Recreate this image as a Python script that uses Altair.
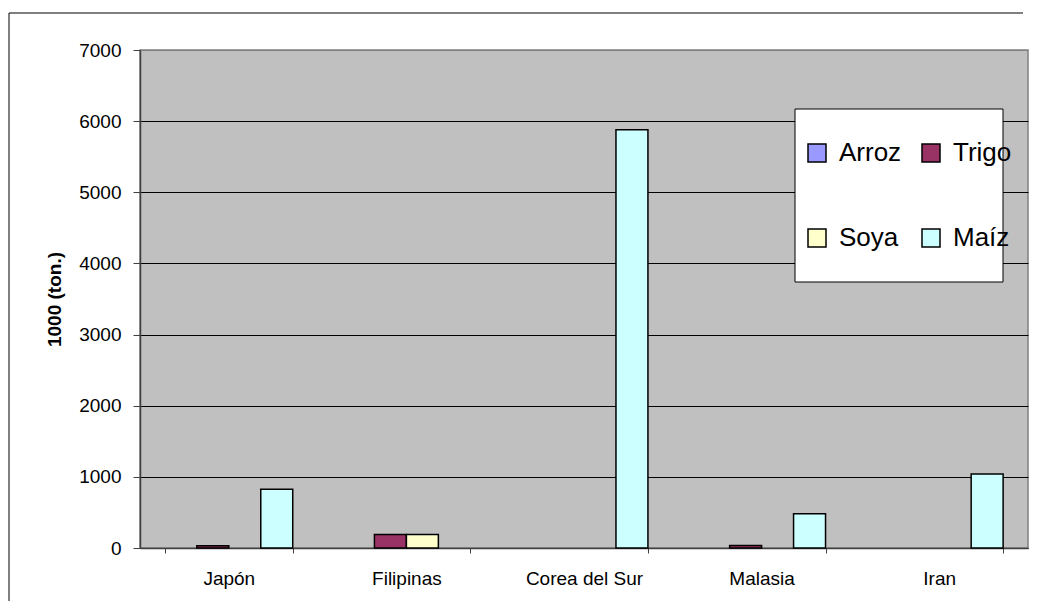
import altair as alt
import pandas as pd

countries = ["Japón", "Filipinas", "Corea del Sur", "Malasia", "Iran"]
crops = ["Arroz", "Trigo", "Soya", "Maíz"]
arroz = [0, 0, 0, 0, 0]
trigo = [30, 190, 0, 35, 0]
soya = [0, 190, 0, 0, 0]
maiz = [825, 0, 5880, 480, 1040]
colors = ["#9999FF", "#993366", "#FFFFCC", "#CCFFFF"]
y_ticks = [0, 1000, 2000, 3000, 4000, 5000, 6000, 7000]

rows = []
for ci, c in enumerate(countries):
    for crop, vals in zip(crops, [arroz, trigo, soya, maiz]):
        rows.append({"country": c, "crop": crop, "value": vals[ci]})
df = pd.DataFrame(rows)

W, H = 888, 498
PAD_R, PAD_B = 5, 53
FONT = "Liberation Sans"

bars = alt.Chart(df).transform_filter("datum.value > 0").mark_bar(
    stroke="black", strokeWidth=1.5
).encode(
    x=alt.X(
        "country:N",
        sort=countries,
        scale=alt.Scale(domain=countries, paddingInner=0.28, paddingOuter=0.14),
        axis=alt.Axis(
            title=None, labelAngle=0, labelFontSize=19, labelFont=FONT,
            labelColor="black", tickBand="extent", tickSize=5,
            tickColor="#404040", domainColor="#404040", domainWidth=1.5,
            labelPadding=16, grid=False,
        ),
    ),
    xOffset=alt.XOffset(
        "crop:N", sort=crops,
        scale=alt.Scale(domain=crops, paddingInner=0, paddingOuter=0),
    ),
    y=alt.Y(
        "value:Q",
        scale=alt.Scale(domain=[0, 7000], nice=False),
        axis=alt.Axis(
            values=y_ticks, format="d", title="1000 (ton.)", titleFontSize=19,
            titleFont=FONT, titleFontWeight="bold", titleColor="black",
            titleX=-86, titleY=H / 2, titleAngle=-90, titleAlign="center",
            titleBaseline="middle",
            labelFontSize=19, labelFont=FONT, labelColor="black",
            labelPadding=12, tickSize=7, tickColor="#404040",
            domainColor="#404040", domainWidth=1.5,
            grid=True,
            gridColor=alt.condition("datum.value == 7000", alt.value("#808080"), alt.value("black")),
            gridWidth=1,
        ),
    ),
    color=alt.Color(
        "crop:N",
        scale=alt.Scale(domain=crops, range=colors),
        legend=alt.Legend(
            title=None, orient="none", legendX=664, legendY=90,
            direction="horizontal", columns=2, symbolType="square",
            symbolSize=324, symbolStrokeColor="black", symbolStrokeWidth=1.5,
            symbolOpacity=1,
            labelFontSize=26, labelFont=FONT, labelColor="black",
            labelOffset=9, rowPadding=59, columnPadding=16, padding=0,
        ),
    ),
)

deco = pd.DataFrame({"k": [0]})

top_border = alt.Chart(deco).mark_rule(color="black", strokeWidth=1).encode(
    x=alt.value(-131), x2=alt.value(W + PAD_R - 10), y=alt.value(-37)
)
left_border = alt.Chart(deco).mark_rule(color="black", strokeWidth=1).encode(
    x=alt.value(-131), y=alt.value(-37), y2=alt.value(H + PAD_B)
)

legend_box = alt.Chart(deco).mark_rect(
    fill="white", stroke="black", strokeWidth=1
).encode(
    x=alt.value(655), x2=alt.value(863), y=alt.value(59), y2=alt.value(232)
)

chart = alt.layer(top_border, left_border, bars, legend_box).properties(
    width=W, height=H,
    autosize="none",
    padding={"left": 132, "top": 42, "right": PAD_R, "bottom": PAD_B},
    background="white",
).configure(font=FONT).configure_view(
    stroke="#808080", strokeWidth=1.5, fill="#C0C0C0"
)

chart.save("out.html", embed_options={"renderer": "svg", "actions": False})
